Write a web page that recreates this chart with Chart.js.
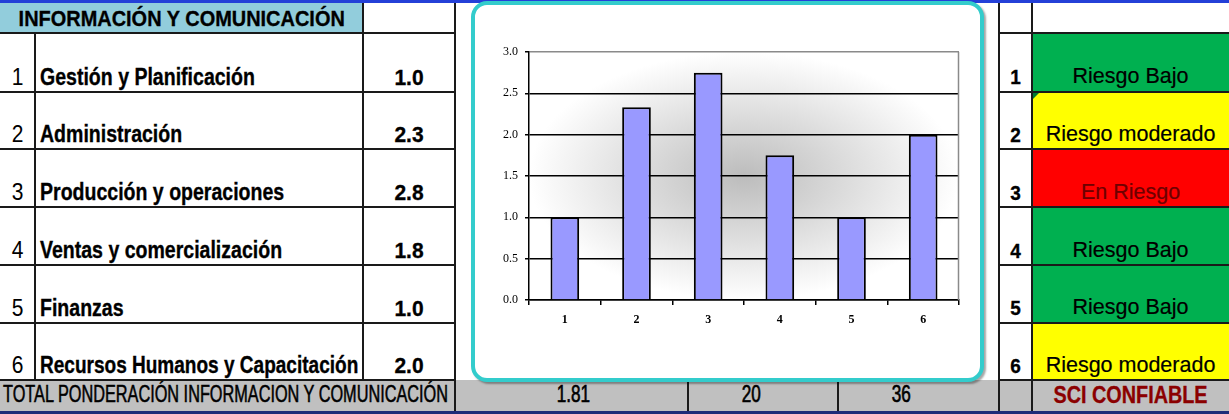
<!DOCTYPE html>
<html>
<head>
<meta charset="utf-8">
<script src="https://cdn.jsdelivr.net/npm/chart.js@4/dist/chart.umd.min.js"></script>
<style>
  html, body { margin: 0; padding: 0; background: #fff; }
  body { width: 1229px; height: 414px; position: relative; overflow: hidden;
         font-family: "Liberation Sans", Arial, sans-serif; }
  .blk { position: absolute; box-sizing: border-box; }
  .t { position: absolute; white-space: nowrap; line-height: 1; }
  .t span { display: inline-block; }
  #box { position: absolute; left: 471px; top: 1px; width: 513px; height: 381px;
         box-sizing: border-box; border: 4px solid #33CCCC; border-radius: 16px;
         background: #fff; box-shadow: 2px 2px 2px rgba(0,0,0,0.35); }
  #c { position: absolute; left: 476px; top: 8px; }
</style>
</head>
<body>
<div id="sheet"></div>
<div id="box"></div>
<canvas id="c" width="500" height="368"></canvas>
<script>
// ---- data ----
const sectionTitle = 'INFORMACIÓN Y COMUNICACIÓN';
const categories = [
  'Gestión y Planificación',
  'Administración',
  'Producción y operaciones',
  'Ventas y comercialización',
  'Finanzas',
  'Recursos Humanos y Capacitación'
];
const scores = [1.0, 2.333, 2.75, 1.75, 1.0, 2.0];
const tickLabels = ['1', '2', '3', '4', '5', '6'];
const yTicks = [0, 0.5, 1.0, 1.5, 2.0, 2.5, 3.0];
const riskLabels = ['Riesgo Bajo', 'Riesgo moderado', 'En Riesgo', 'Riesgo Bajo', 'Riesgo Bajo', 'Riesgo moderado'];
const totalTitle = 'TOTAL PONDERACIÓN INFORMACION Y COMUNICACIÓN';
const totalCells = ['1.81', '20', '36'];
const verdict = 'SCI CONFIABLE';

// ---- sheet styling ----
const riskStyle = {
  'Riesgo Bajo':     { bg: '#00B050', fg: '#000000' },
  'Riesgo moderado': { bg: '#FFFF00', fg: '#000000' },
  'En Riesgo':       { bg: '#FF0000', fg: '#6E0000' }
};
const rowEdges = [33, 91.5, 149, 207, 265, 322.5, 380];
const sheet = document.getElementById('sheet');

function rect(x, y, w, h, color) {
  const d = document.createElement('div');
  d.className = 'blk';
  Object.assign(d.style, { left: x + 'px', top: y + 'px', width: w + 'px', height: h + 'px', background: color });
  sheet.appendChild(d);
  return d;
}
function hline(x1, x2, y) { rect(x1, y - 1, x2 - x1, 2, '#1a1a1a'); }
function vline(x, y1, y2) { rect(x - 1, y1, 2, y2 - y1, '#1a1a1a'); }

// text placed on a baseline; o.max keeps a label inside its cell
function text(str, o) {
  const d = document.createElement('div');
  d.className = 't';
  const align = o.align || 'center';
  Object.assign(d.style, {
    left: o.x + 'px', width: o.w + 'px', textAlign: align,
    fontSize: o.size + 'px', top: (o.base - 0.85 * o.size) + 'px',
    fontWeight: o.bold ? 'bold' : 'normal', color: o.color || '#000'
  });
  if (o.stroke) d.style.webkitTextStroke = o.stroke + 'px ' + (o.color || '#000');
  const s = document.createElement('span');
  s.textContent = str;
  d.appendChild(s);
  sheet.appendChild(d);
  let sx = o.sx || 1;
  if (o.max && s.offsetWidth * sx > o.max) sx = o.max / s.offsetWidth;
  s.style.transform = 'scale(' + sx + ',' + (o.sy || 1) + ')';
  s.style.transformOrigin = (align === 'left' ? '0%' : '50%') + ' 85%';
}

// backgrounds
rect(0, 3, 363, 30, '#92CDDC');
rect(0, 380, 1229, 31, '#C0C0C0');
riskLabels.forEach((r, i) => {
  rect(1032, rowEdges[i], 197, rowEdges[i + 1] - rowEdges[i], riskStyle[r].bg);
});
// small green marker in the corner of the second status cell
const tri = rect(1033, rowEdges[1] + 1, 0, 0, 'transparent');
Object.assign(tri.style, { borderTop: '6px solid #007a33', borderRight: '6px solid transparent' });

// blue rules at top and bottom of the block
rect(0, 0, 1229, 3, '#2440d8');
rect(0, 411, 1229, 3, '#1e2c78');

// left table grid
hline(0, 455, 33);
for (let i = 1; i < rowEdges.length; i++) hline(0, 455, rowEdges[i]);
vline(35, 33, 380);
vline(363, 3, 380);
vline(455, 3, 411);
// total row separators
vline(688, 380, 411);
vline(838, 380, 411);
// right table grid
vline(999, 3, 411);
vline(1032, 3, 411);
hline(999, 1229, 33);
for (let i = 1; i < rowEdges.length; i++) hline(999, 1229, rowEdges[i]);

// texts
text(sectionTitle, { x: 0, w: 363, base: 26, size: 21, bold: true, sx: 0.95, sy: 1.08, stroke: 0.3 });
categories.forEach((name, i) => {
  const base = rowEdges[i + 1] - 7;
  text(String(i + 1), { x: 0, w: 35, base, size: 21, sy: 1.12 });
  text(name, { x: 40, w: 320, base, size: 21, bold: true, align: 'left', sx: 0.93, sy: 1.12, stroke: 0.3, max: 318 });
  text(scores[i].toFixed(1), { x: 363, w: 92, base, size: 21, bold: true, sy: 1.08, stroke: 0.3 });
  text(tickLabels[i], { x: 999, w: 33, base, size: 19, bold: true, sy: 1.05, stroke: 0.3 });
  text(riskLabels[i], { x: 1032, w: 197, base, size: 21.5, color: riskStyle[riskLabels[i]].fg, stroke: 0.2 });
});
text(totalTitle, { x: 3, w: 452, base: 403, size: 22, align: 'left', sx: 0.74, sy: 1.12, stroke: 0.5, max: 450 });
const totalCenters = [573, 751, 901];
totalCells.forEach((v, i) => {
  text(v, { x: totalCenters[i] - 50, w: 100, base: 403, size: 22, sx: 0.78, sy: 1.08, stroke: 0.6 });
});
text(verdict, { x: 1032, w: 197, base: 404, size: 22, bold: true, color: '#8B0000', sx: 0.9, sy: 1.1, stroke: 0.3 });

// ---- chart ----
const plotDecor = {
  id: 'plotDecor',
  beforeDraw(chart) {
    const { ctx, chartArea: a } = chart;
    const w = a.right - a.left, h = a.bottom - a.top;
    const rx = w / 2, ry = h / 2;
    ctx.save();
    ctx.fillStyle = '#ffffff';
    ctx.fillRect(a.left, a.top, w, h);
    ctx.beginPath();
    ctx.rect(a.left, a.top, w, h);
    ctx.clip();
    ctx.translate(a.left + rx, a.top + ry);
    ctx.scale(1, ry / rx);
    const g = ctx.createRadialGradient(0, 0, 0, 0, 0, rx);
    g.addColorStop(0, '#bcbcbc');
    g.addColorStop(0.45, '#dadada');
    g.addColorStop(1, '#ffffff');
    ctx.fillStyle = g;
    ctx.fillRect(-rx, -rx, 2 * rx, 2 * rx);
    ctx.restore();
  },
  beforeDatasetsDraw(chart) {
    const { ctx, chartArea: a } = chart;
    ctx.save();
    ctx.strokeStyle = '#8a8a8a';
    ctx.lineWidth = 1.5;
    const x = Math.round(a.right) - 0.5;
    ctx.beginPath();
    ctx.moveTo(x, a.top);
    ctx.lineTo(x, a.bottom);
    ctx.stroke();
    ctx.restore();
  }
};

new Chart(document.getElementById('c'), {
  type: 'bar',
  data: {
    labels: tickLabels,
    datasets: [{
      data: scores,
      backgroundColor: '#9999FF',
      borderColor: '#000000',
      borderWidth: 2,
      barPercentage: 0.4,
      categoryPercentage: 1.0
    }]
  },
  options: {
    responsive: false,
    animation: false,
    events: [],
    layout: { padding: { left: 0, right: 17, top: 44, bottom: 0 } },
    plugins: { legend: { display: false }, tooltip: { enabled: false } },
    scales: {
      x: {
        offset: true,
        afterFit: (s) => { s.height = 76; },
        grid: { display: true, offset: true, drawOnChartArea: false, drawTicks: true,
                tickLength: 5, color: '#000', lineWidth: 1.5 },
        border: { display: true, color: '#000', width: 1.5 },
        ticks: { padding: 8, color: '#000',
                 font: { family: '"Liberation Serif", "DejaVu Serif", serif', size: 12, weight: 'bold' } }
      },
      y: {
        min: 0, max: 3,
        afterFit: (s) => { s.width = 53; },
        afterBuildTicks: (s) => { s.ticks = yTicks.map(v => ({ value: v })); },
        grid: {
          color: (c) => (c.tick && c.tick.value === 3 ? '#8a8a8a' : '#000'),
          tickColor: '#000', tickLength: 4, lineWidth: 1.5, drawTicks: true
        },
        border: { display: true, color: '#000', width: 1.5 },
        ticks: { padding: 7, color: '#000', callback: (v) => Number(v).toFixed(1),
                 font: { family: '"Liberation Serif", "DejaVu Serif", serif', size: 12 } }
      }
    }
  },
  plugins: [plotDecor]
});
</script>
</body>
</html>
